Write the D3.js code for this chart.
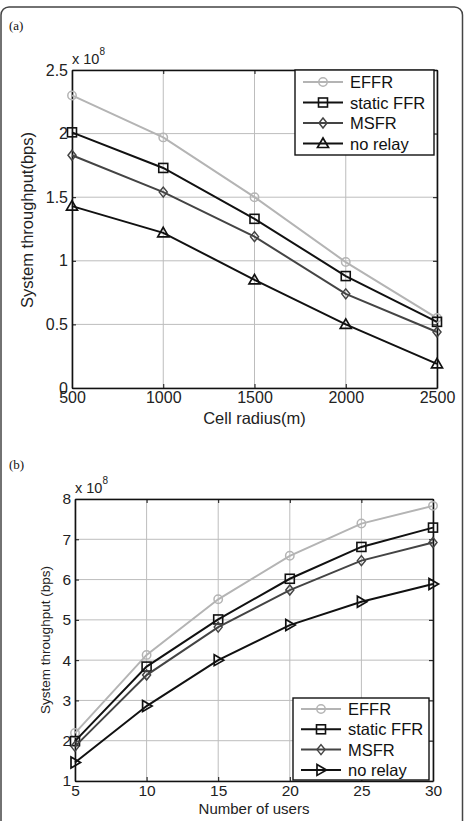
<!DOCTYPE html>
<html><head><meta charset="utf-8">
<script src="https://cdn.jsdelivr.net/npm/d3@7"></script>
<style>body{margin:0;background:#fff}svg{display:block}</style>
</head><body>
<svg id="c" width="465" height="821"></svg>
<script>
const seriesNames = ["EFFR", "static FFR", "MSFR", "no relay"];
const seriesColors = ["#b4b4b4", "#111111", "#444444", "#111111"];

const radiusX = [500, 1000, 1500, 2000, 2500];
const radiusTicksY = [0, 0.5, 1, 1.5, 2, 2.5];
const aEFFR = [2.30, 1.97, 1.50, 0.99, 0.55];
const aStatic = [2.01, 1.73, 1.33, 0.88, 0.52];
const aMSFR = [1.83, 1.54, 1.19, 0.74, 0.44];
const aNoRelay = [1.43, 1.22, 0.85, 0.50, 0.19];

const usersX = [5, 10, 15, 20, 25, 30];
const usersTicksY = [1, 2, 3, 4, 5, 6, 7, 8];
const bEFFR = [2.19, 4.13, 5.51, 6.59, 7.39, 7.83];
const bStatic = [1.99, 3.84, 5.01, 6.02, 6.81, 7.29];
const bMSFR = [1.86, 3.63, 4.82, 5.74, 6.47, 6.92];
const bNoRelay = [1.46, 2.86, 4.00, 4.87, 5.45, 5.89];

const svg = d3.select("#c");
const FONT = "'Liberation Sans', Arial, sans-serif";

// outer frame
svg.append("rect").attr("x", 1).attr("y", 7).attr("width", 461.5).attr("height", 830)
  .attr("rx", 8).attr("fill", "none").attr("stroke", "#444").attr("stroke-width", 1.5);

function marker(g, type, x, y, color) {
  if (type === "circle") {
    g.append("circle").attr("cx", x).attr("cy", y).attr("r", 4.2)
      .attr("fill", "none").attr("stroke", color).attr("stroke-width", 1.5);
  } else if (type === "square") {
    g.append("rect").attr("x", x - 4.5).attr("y", y - 4.5).attr("width", 9).attr("height", 9)
      .attr("fill", "none").attr("stroke", color).attr("stroke-width", 1.6);
  } else if (type === "diamond") {
    g.append("path").attr("d", `M${x},${y-5}L${x+4},${y}L${x},${y+5}L${x-4},${y}Z`)
      .attr("fill", "none").attr("stroke", color).attr("stroke-width", 1.5);
  } else if (type === "triUp") {
    g.append("path").attr("d", `M${x},${y-5.5}L${x+5.5},${y+4}L${x-5.5},${y+4}Z`)
      .attr("fill", "none").attr("stroke", color).attr("stroke-width", 1.7);
  } else if (type === "triRight") {
    g.append("path").attr("d", `M${x+5.5},${y}L${x-4},${y-5.5}L${x-4},${y+5.5}Z`)
      .attr("fill", "none").attr("stroke", color).attr("stroke-width", 1.7);
  }
}

function drawChart(cfg) {
  const {left, top, right, bottom, xs, xDomain, yDomain, yTicks, series, markers, label, ylabel, xlabel} = cfg;
  const x = d3.scaleLinear().domain(xDomain).range([left, right]);
  const y = d3.scaleLinear().domain(yDomain).range([bottom, top]);
  const g = svg.append("g");

  svg.append("text").attr("x", cfg.labelX).attr("y", cfg.labelY).text(label)
    .attr("font-family", "'Liberation Serif', 'Times New Roman', serif").attr("font-size", 13).attr("fill", "#111");

  // grid
  g.selectAll(".gx").data(xs).enter().append("line")
    .attr("x1", d => x(d)).attr("x2", d => x(d)).attr("y1", top).attr("y2", bottom)
    .attr("stroke", "#bdbdbd").attr("stroke-width", 1);
  g.selectAll(".gy").data(yTicks).enter().append("line")
    .attr("x1", left).attr("x2", right).attr("y1", d => y(d)).attr("y2", d => y(d))
    .attr("stroke", "#bdbdbd").attr("stroke-width", 1);

  const xAxis = d3.axisBottom(x).tickValues(xs).tickSizeInner(-4).tickSizeOuter(0).tickPadding(4).tickFormat(d3.format("d"));
  const xAxisTop = d3.axisTop(x).tickValues(xs).tickSizeInner(-4).tickSizeOuter(0).tickFormat("");
  const yAxis = d3.axisLeft(y).tickValues(yTicks).tickSizeInner(-4).tickSizeOuter(0).tickPadding(4).tickFormat(d => d3.format("~g")(d));
  const yAxisR = d3.axisRight(y).tickValues(yTicks).tickSizeInner(-4).tickSizeOuter(0).tickFormat("");

  const styleAxis = sel => {
    sel.selectAll("path").attr("stroke", "#111").attr("stroke-width", 1.6);
    sel.selectAll("line").attr("stroke", "#111");
    sel.selectAll("text").attr("font-family", FONT).attr("font-size", cfg.tickSize).attr("fill", "#222");
  };
  g.append("g").attr("transform", `translate(0,${bottom})`).call(xAxis).call(styleAxis);
  g.append("g").attr("transform", `translate(0,${top})`).call(xAxisTop).call(styleAxis);
  g.append("g").attr("transform", `translate(${left},0)`).call(yAxis).call(styleAxis);
  g.append("g").attr("transform", `translate(${right},0)`).call(yAxisR).call(styleAxis);

  // exponent
  const ex = g.append("text").attr("x", left).attr("y", top - 6)
    .attr("font-family", FONT).attr("font-size", 14.5).attr("fill", "#222");
  ex.append("tspan").text("x 10");
  ex.append("tspan").text("8").attr("font-size", 10).attr("dy", -9);

  // series
  const line = d3.line().x((d, i) => x(xs[i])).y(d => y(d));
  series.forEach((vals, si) => {
    g.append("path").datum(vals).attr("d", line).attr("fill", "none")
      .attr("stroke", seriesColors[si]).attr("stroke-width", 2);
    vals.forEach((v, i) => marker(g, markers[si], x(xs[i]), y(v), seriesColors[si]));
  });

  // axis labels
  g.append("text").attr("transform", `translate(${cfg.ylabelX},${cfg.ylabelY}) rotate(-90)`)
    .attr("text-anchor", "middle").text(ylabel)
    .attr("font-family", FONT).attr("font-size", cfg.ylabelSize).attr("fill", "#222");
  g.append("text").attr("x", (left + right) / 2).attr("y", cfg.xlabelY)
    .attr("text-anchor", "middle").text(xlabel)
    .attr("font-family", FONT).attr("font-size", cfg.xlabelSize).attr("fill", "#222");

  // legend
  const L = cfg.legend;
  const lg = g.append("g");
  lg.append("rect").attr("x", L.x).attr("y", L.y).attr("width", L.w).attr("height", L.h)
    .attr("fill", "#fff").attr("stroke", "#111").attr("stroke-width", 1.4);
  seriesNames.forEach((n, i) => {
    const yy = L.y + L.first + i * L.step;
    lg.append("line").attr("x1", L.x + 8).attr("x2", L.x + 48).attr("y1", yy).attr("y2", yy)
      .attr("stroke", seriesColors[i]).attr("stroke-width", 2);
    marker(lg, markers[i], L.x + 28, yy, seriesColors[i]);
    lg.append("text").attr("x", L.x + 55).attr("y", yy + 6).text(n)
      .attr("font-family", FONT).attr("font-size", 16.5).attr("fill", "#111");
  });
}

drawChart({
  left: 72, top: 70, right: 437, bottom: 388,
  xs: radiusX, xDomain: [500, 2500], yDomain: [0, 2.5], yTicks: radiusTicksY,
  series: [aEFFR, aStatic, aMSFR, aNoRelay],
  markers: ["circle", "square", "diamond", "triUp"],
  label: "(a)", labelX: 9, labelY: 30,
  tickSize: 16,
  ylabel: "System throughput(bps)", ylabelX: 33, ylabelY: 220, ylabelSize: 16.5,
  xlabel: "Cell radius(m)", xlabelY: 424, xlabelSize: 16.5,
  legend: {x: 295, y: 70, w: 139, h: 85, first: 12, step: 20.5}
});

drawChart({
  left: 75, top: 499, right: 433, bottom: 781,
  xs: usersX, xDomain: [5, 30], yDomain: [1, 8], yTicks: usersTicksY,
  series: [bEFFR, bStatic, bMSFR, bNoRelay],
  markers: ["circle", "square", "diamond", "triRight"],
  label: "(b)", labelX: 9, labelY: 469,
  tickSize: 15.5,
  ylabel: "System throughput (bps)", ylabelX: 50, ylabelY: 640, ylabelSize: 13.5,
  xlabel: "Number of users", xlabelY: 814, xlabelSize: 15,
  legend: {x: 293, y: 698, w: 136, h: 82, first: 11, step: 20.3}
});
</script>
</body></html>
